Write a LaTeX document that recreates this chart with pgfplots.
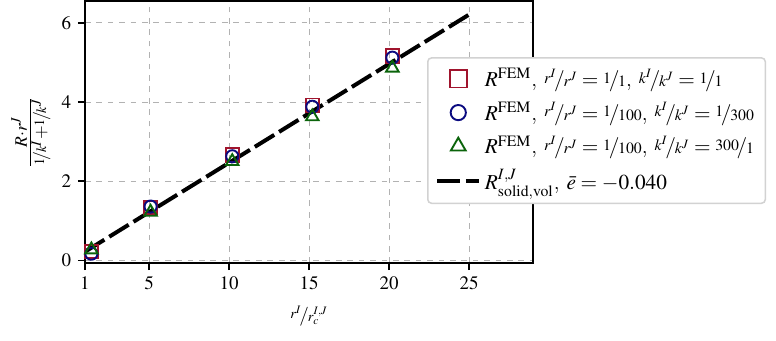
\documentclass[border=0pt]{standalone}
\usepackage{mathptmx}
\usepackage{nicefrac}
\usepackage{pgfplots}
\pgfplotsset{compat=1.18}
\definecolor{cred}{HTML}{A0142D}
\definecolor{cblue}{HTML}{0A0A80}
\definecolor{cgreen}{HTML}{0B640B}
\begin{document}
\begin{tikzpicture}
\begin{axis}[
  scale only axis,
  width=235.8pt, height=137.9pt,
  xmin=1, xmax=29, ymin=-0.07, ymax=6.55,
  xtick={1,5,10,15,20,25},
  ytick={0,2,4,6},
  xtick pos=lower, ytick pos=left,
  tick align=outside,
  major tick length=3.7pt,
  tick style={line width=0.9pt, black},
  axis line style={line width=1.1pt},
  grid=major,
  major grid style={dashed, gray!60, line width=0.4pt},
  xlabel={$\nicefrac{r^I}{r_c^{I,J}}$},
  ylabel={$\frac{R\cdot r^J}{\nicefrac{1}{k^I}+\nicefrac{1}{k^J}}$},
  xlabel style={yshift=-1.5pt},
  ylabel style={yshift=-1pt, font=\fontsize{12.5}{14}\selectfont},
  legend cell align=left,
  legend style={at={(0.763,0.786)}, anchor=north west,
    draw=gray!35, line width=0.8pt, rounded corners=2pt,
    font=\fontsize{11.2}{12.5}\selectfont, row sep=2.6pt,
    inner xsep=4pt, inner ysep=3.5pt,
    /tikz/every even column/.append style={column sep=22pt}},
  legend image code/.code={\draw[mark repeat=2,mark phase=2,#1] plot coordinates {(0pt,0pt)(11pt,0pt)(22pt,0pt)};},
]
\addplot[only marks, mark=square, mark size=3.5pt, cred, mark options={line width=1pt},
  legend image post style={mark size=4.5pt}]
  coordinates {(1.4,0.22)(5.1,1.33)(10.2,2.66)(15.2,3.92)(20.2,5.16)};
\addlegendentry{$R^{\mathrm{FEM}}$, $\nicefrac{r^I}{r^J}=\nicefrac{1}{1}$, $\nicefrac{k^I}{k^J}=\nicefrac{1}{1}$}
\addplot[only marks, mark=o, mark size=3.2pt, cblue, mark options={line width=1pt},
  legend image post style={mark size=4.0pt}]
  coordinates {(1.4,0.17)(5.1,1.36)(10.2,2.63)(15.2,3.88)(20.2,5.12)};
\addlegendentry{$R^{\mathrm{FEM}}$, $\nicefrac{r^I}{r^J}=\nicefrac{1}{100}$, $\nicefrac{k^I}{k^J}=\nicefrac{1}{300}$}
\addplot[only marks, mark=triangle, mark size=3.8pt, cgreen, mark options={line width=1pt},
  legend image post style={mark size=4.5pt}]
  coordinates {(1.4,0.27)(5.1,1.22)(10.2,2.50)(15.2,3.63)(20.2,4.86)};
\addlegendentry{$R^{\mathrm{FEM}}$, $\nicefrac{r^I}{r^J}=\nicefrac{1}{100}$, $\nicefrac{k^I}{k^J}=\nicefrac{300}{1}$}
\addplot[black, line width=2.1pt, dash pattern=on 12pt off 3pt]
  coordinates {(1,0.22)(25,6.21)};
\addlegendentry{$R^{I,J}_{\mathrm{solid,vol}}$, $\bar{e}=-0.040$}
\end{axis}
\useasboundingbox (current axis.south west) ++(-44.7pt,-40.5pt) rectangle ++(408.2pt,178.3pt);
\end{tikzpicture}
\end{document}
